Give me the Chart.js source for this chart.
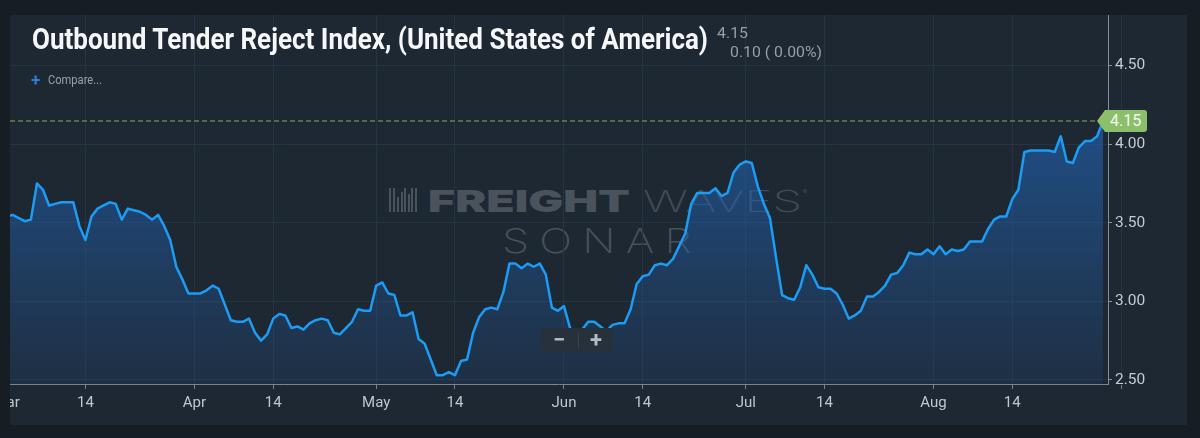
<!DOCTYPE html>
<html>
<head>
<meta charset="utf-8">
<title>Outbound Tender Reject Index</title>
<script src="https://cdn.jsdelivr.net/npm/chart.js@4.4.1/dist/chart.umd.min.js"></script>
<style>
  html, body { margin: 0; padding: 0; }
  body { width: 1200px; height: 438px; overflow: hidden; position: relative; background: #161d23; font-family: Roboto, sans-serif; }
  .abs { position: absolute; white-space: nowrap; line-height: 1; transform-origin: left top; }
  #panel { position: absolute; left: 10px; top: 15px; width: 1177px; height: 410px; background: #1e2833; }
  #chart { position: absolute; left: 0; top: 0; z-index: 2; }
  .wm { z-index: 1; font-family: Inter, sans-serif; }
  .top { z-index: 3; }
  #title { left: 32px; top: 24px; font-size: 30px; font-weight: 700; color: #f5f7f9; }
  #last { left: 717px; top: 26px; font-size: 15px; color: #979fa6; }
  #change { left: 730px; top: 45px; font-size: 15px; color: #979fa6; }
  #plus { left: 31px; top: 72px; font-size: 17px; font-weight: 700; color: #2b7fd6; }
  #compare { left: 48px; top: 74px; font-size: 12px; color: #98a0a7; }
  #logo { position: absolute; left: 389px; top: 188px; width: 30px; height: 24px; z-index: 1; }
  #logo span { position: absolute; width: 2px; background: #4a535c; }
  #zoomBox { position: absolute; left: 541px; top: 328px; width: 72px; height: 25px; background: #27313b; border-radius: 3px; z-index: 3; }
  #zoomBox .sep { position: absolute; left: 37px; top: 5px; width: 1px; height: 15px; background: #3b4550; }
  #zoomBox .btn { position: absolute; top: 1px; width: 36px; text-align: center; font-size: 22px; font-weight: 700; color: #b4bac0; line-height: 22px; }
  #tag { position: absolute; left: 1097px; top: 109px; width: 50px; height: 22px; background: #8cbf6a; z-index: 3;
         clip-path: polygon(0 50%, 8px 0, 100% 0, 100% 100%, 8px 100%); border-radius: 0 3px 3px 0; }
  #tag span { position: absolute; left: 13px; top: 3px; font-size: 16px; color: #f4f8f0; line-height: 16px; }
  #hideRight { position: absolute; left: 1109px; top: 389px; width: 78px; height: 30px; background: #1e2833; z-index: 3; }
  #hideLeft { position: absolute; left: 0; top: 0; width: 10px; height: 438px; background: #161d23; z-index: 3; }
</style>
</head>
<body>
<div id="panel"></div>

<div id="logo"></div>
<div class="abs wm" id="wmFreight" style="left:428px; top:186px; font-size:30px; font-weight:900; color:#4a535c;">FREIGHT</div>
<div class="abs wm" id="wmWaves" style="left:643px; top:186px; font-size:30px; font-weight:200; color:#424c55;">WAVES</div>
<div class="abs wm" style="left:803px; top:189px; font-size:6px; color:#424c55;">®</div>
<div class="abs wm" id="wmSonar" style="left:502px; top:224px; font-size:34px; font-weight:200; letter-spacing:8px; color:#47515a;">SONAR</div>

<canvas id="chart" width="1200" height="438"></canvas>

<div class="abs top" id="title">Outbound Tender Reject Index, (United States of America)</div>
<div class="abs top" id="last">4.15</div>
<div class="abs top" id="change">0.10 ( 0.00%)</div>
<div class="abs top" id="plus">+</div>
<div class="abs top" id="compare">Compare...</div>

<div id="zoomBox"><div class="btn" style="left:0">−</div><div class="sep"></div><div class="btn" style="left:37px">+</div></div>
<div id="tag"><span>4.15</span></div>
<div id="hideRight"></div>
<div id="hideLeft"></div>

<script>
// daily index values, day 0 = Mar 1
const values = [
  3.54, 3.55, 3.53, 3.51, 3.52, 3.75, 3.71, 3.61, 3.62, 3.63,
  3.63, 3.63, 3.48, 3.39, 3.54, 3.59, 3.61, 3.63, 3.62, 3.52,
  3.59, 3.58, 3.57, 3.55, 3.52, 3.55, 3.48, 3.39, 3.22, 3.14,
  3.05, 3.05, 3.05, 3.07, 3.10, 3.08, 2.98, 2.88, 2.87, 2.87,
  2.89, 2.80, 2.75, 2.79, 2.89, 2.92, 2.91, 2.83, 2.84, 2.82,
  2.86, 2.88, 2.89, 2.88, 2.80, 2.79, 2.83, 2.87, 2.95, 2.94,
  2.94, 3.10, 3.12, 3.05, 3.04, 2.91, 2.91, 2.93, 2.76, 2.73,
  2.63, 2.53, 2.53, 2.55, 2.53, 2.62, 2.63, 2.80, 2.90, 2.95,
  2.96, 2.95, 3.06, 3.24, 3.24, 3.21, 3.24, 3.22, 3.24, 3.17,
  2.96, 2.94, 2.97, 2.83, 2.78, 2.82, 2.87, 2.87, 2.84, 2.81,
  2.85, 2.86, 2.86, 2.95, 3.11, 3.16, 3.17, 3.23, 3.24, 3.23,
  3.27, 3.35, 3.43, 3.62, 3.69, 3.69, 3.69, 3.72, 3.67, 3.69,
  3.82, 3.87, 3.89, 3.88, 3.73, 3.62, 3.53, 3.28, 3.04, 3.02,
  3.01, 3.09, 3.23, 3.17, 3.09, 3.08, 3.08, 3.05, 2.98, 2.89,
  2.91, 2.94, 3.03, 3.03, 3.06, 3.10, 3.17, 3.18, 3.23, 3.31,
  3.30, 3.30, 3.33, 3.30, 3.35, 3.30, 3.33, 3.32, 3.33, 3.38,
  3.38, 3.38, 3.46, 3.52, 3.54, 3.54, 3.65, 3.71, 3.95, 3.96,
  3.96, 3.96, 3.96, 3.95, 4.05, 3.89, 3.88, 3.98, 4.02, 4.02,
  4.05, 4.15
];
const tickDays = [0, 13, 31, 44, 61, 74, 92, 105, 122, 135, 153, 166, 184];
const tickLabels = ['Mar', '14', 'Apr', '14', 'May', '14', 'Jun', '14', 'Jul', '14', 'Aug', '14', 'Sep'];
const yTicks = [2.5, 3.0, 3.5, 4.0, 4.5];

const lastValue = values[values.length - 1];

// little bar logo of the watermark
const bars = [[0, 24], [4, 24], [8, 15], [11.5, 20], [15, 24], [18.5, 18], [22, 24], [26, 24]];
const logo = document.getElementById('logo');
bars.forEach(b => {
  const s = document.createElement('span');
  s.style.left = b[0] + 'px';
  s.style.top = (24 - b[1]) + 'px';
  s.style.height = b[1] + 'px';
  logo.appendChild(s);
});

function fitWidth(id, w) {
  const el = document.getElementById(id);
  const r = el.getBoundingClientRect().width;
  el.style.transform = 'scaleX(' + (w / r) + ')';
}
fitWidth('title', 676);
fitWidth('last', 31);
fitWidth('change', 92);
fitWidth('compare', 54);
fitWidth('wmFreight', 202);
fitWidth('wmWaves', 159);
fitWidth('wmSonar', 200);

const lastLine = {
  id: 'lastLine',
  beforeDatasetsDraw(chart) {
    const { ctx, chartArea, scales } = chart;
    const y = Math.round(scales.y.getPixelForValue(lastValue));
    ctx.save();
    ctx.strokeStyle = '#7fb356';
    ctx.lineWidth = 1.2;
    ctx.setLineDash([5, 3]);
    ctx.beginPath();
    ctx.moveTo(chartArea.left, y);
    ctx.lineTo(chartArea.right - 10, y);
    ctx.stroke();
    ctx.restore();
  },
  afterRender(chart) {
    const y = chart.scales.y.getPixelForValue(lastValue);
    document.getElementById('tag').style.top = Math.round(y - 11) + 'px';
  }
};

new Chart(document.getElementById('chart'), {
  type: 'line',
  data: {
    datasets: [{
      data: values.map((v, i) => ({ x: i, y: v })),
      borderColor: '#1c9cf4',
      borderWidth: 2.5,
      borderJoinStyle: 'round',
      pointRadius: 0,
      tension: 0,
      fill: 'start',
      backgroundColor: (c) => {
        const a = c.chart.chartArea;
        if (!a) return 'rgba(36,96,170,0.5)';
        const g = c.chart.ctx.createLinearGradient(0, a.top, 0, a.bottom);
        g.addColorStop(0, 'rgba(34,98,176,0.87)');
        g.addColorStop(1, 'rgba(34,98,176,0.13)');
        return g;
      }
    }]
  },
  options: {
    responsive: false,
    animation: false,
    layout: { autoPadding: false, padding: { left: 10, top: 15, right: 0, bottom: 0 } },
    plugins: { legend: { display: false }, tooltip: { enabled: false } },
    scales: {
      x: {
        type: 'linear',
        min: 0.55,
        max: 181.8,
        afterBuildTicks: (s) => { s.ticks = tickDays.map(v => ({ value: v })); },
        afterFit: (s) => { s.height = 54; s.paddingLeft = 0; s.paddingRight = 0; },
        ticks: {
          autoSkip: false,
          maxRotation: 0,
          padding: 5,
          color: '#c0c6cb',
          font: { family: 'Roboto', size: 15 },
          callback: (v) => tickLabels[tickDays.indexOf(v)]
        },
        grid: { color: '#263341', tickColor: '#78828b', tickLength: 5 },
        border: { color: '#7a848d' }
      },
      y: {
        position: 'right',
        min: 2.474,
        max: 4.822,
        afterBuildTicks: (s) => { s.ticks = yTicks.map(v => ({ value: v })); },
        afterFit: (s) => { s.width = 92; s.paddingTop = 0; s.paddingBottom = 0; },
        ticks: {
          padding: 3,
          color: '#c6cbd0',
          font: { family: 'Roboto', size: 15.5 },
          callback: (v) => v.toFixed(2)
        },
        grid: { color: '#263341', tickColor: '#8a939b', tickLength: 4 },
        border: { color: '#858e96' }
      }
    }
  },
  plugins: [lastLine]
});
</script>
</body>
</html>
